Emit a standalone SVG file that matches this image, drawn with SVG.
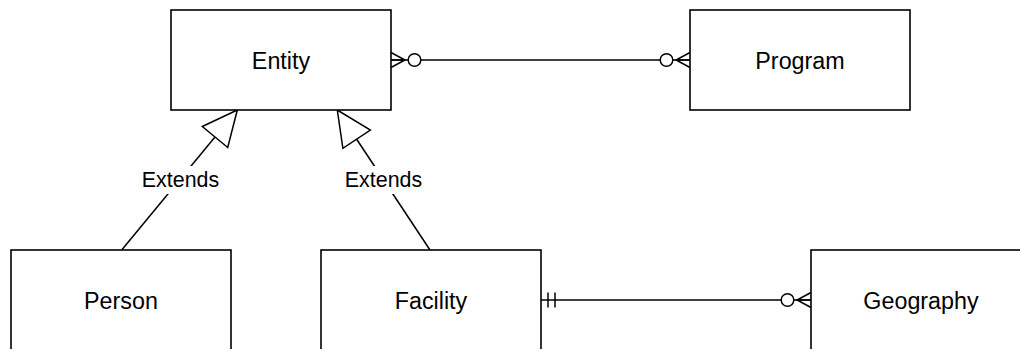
<svg xmlns="http://www.w3.org/2000/svg" width="1020" height="349" viewBox="0 0 1020 349">
<style>
.box{fill:#fff;stroke:#000;stroke-width:1.6}
.nt{font-family:"Liberation Sans",Arial,sans-serif;font-size:23.3px;fill:#000;text-anchor:middle}
.lt{font-family:"Liberation Sans",Arial,sans-serif;font-size:21.4px;fill:#000;text-anchor:middle}
.ln{fill:none;stroke:#000;stroke-width:1.5}
</style>
<defs>
<marker id="zeroMany" markerUnits="userSpaceOnUse" viewBox="-32 -10 34 20" refX="0" refY="0" markerWidth="34" markerHeight="20" orient="auto-start-reverse">
<path d="M0,-7.5 L-14,0 L0,7.5 M-14,0 L0,0" fill="none" stroke="#000" stroke-width="1.5"/>
<circle cx="-23.5" cy="0" r="6.3" fill="#fff" stroke="#000" stroke-width="1.5"/>
</marker>
<marker id="oneOnly" markerUnits="userSpaceOnUse" viewBox="-20 -10 22 20" refX="0" refY="0" markerWidth="22" markerHeight="20" orient="auto-start-reverse">
<path d="M-7,-7.5 L-7,7.5 M-14,-7.5 L-14,7.5" fill="none" stroke="#000" stroke-width="1.5"/>
</marker>
<marker id="extends" markerUnits="userSpaceOnUse" viewBox="-37 -18 39 36" refX="0" refY="0" markerWidth="39" markerHeight="36" orient="auto">
<path d="M0,0 L-35,-16.5 L-35,16.5 Z" fill="#fff" stroke="#000" stroke-width="1.5"/>
</marker>
</defs>
<g id="connectors">
<path class="ln" d="M391,60 L690,60" marker-start="url(#zeroMany)" marker-end="url(#zeroMany)"/>
<path class="ln" d="M541,300 L811,300" marker-start="url(#oneOnly)" marker-end="url(#zeroMany)"/>
<path class="ln" d="M121.7,250 L237.3,110" marker-end="url(#extends)"/>
<path class="ln" d="M430,250 L337.3,110" marker-end="url(#extends)"/>
<g id="label-extends-1">
<rect x="139" y="166" width="83" height="28" fill="#fff"/>
<text class="lt" x="180.5" y="187">Extends</text>
</g>
<g id="label-extends-2">
<rect x="342" y="166" width="83" height="28" fill="#fff"/>
<text class="lt" x="383.5" y="187">Extends</text>
</g>
</g>
<g id="entity">
<rect class="box" x="171" y="10" width="220" height="100"/>
<text class="nt" x="281" y="68.5">Entity</text>
</g>
<g id="program">
<rect class="box" x="690" y="10" width="220" height="100"/>
<text class="nt" x="800" y="68.5">Program</text>
</g>
<g id="person">
<rect class="box" x="11" y="250" width="220" height="110"/>
<text class="nt" x="121" y="308.5">Person</text>
</g>
<g id="facility">
<rect class="box" x="321" y="250" width="220" height="110"/>
<text class="nt" x="431" y="308.5">Facility</text>
</g>
<g id="geography">
<rect class="box" x="811" y="250" width="220" height="110"/>
<text class="nt" x="921" y="308.5">Geography</text>
</g>
</svg>
